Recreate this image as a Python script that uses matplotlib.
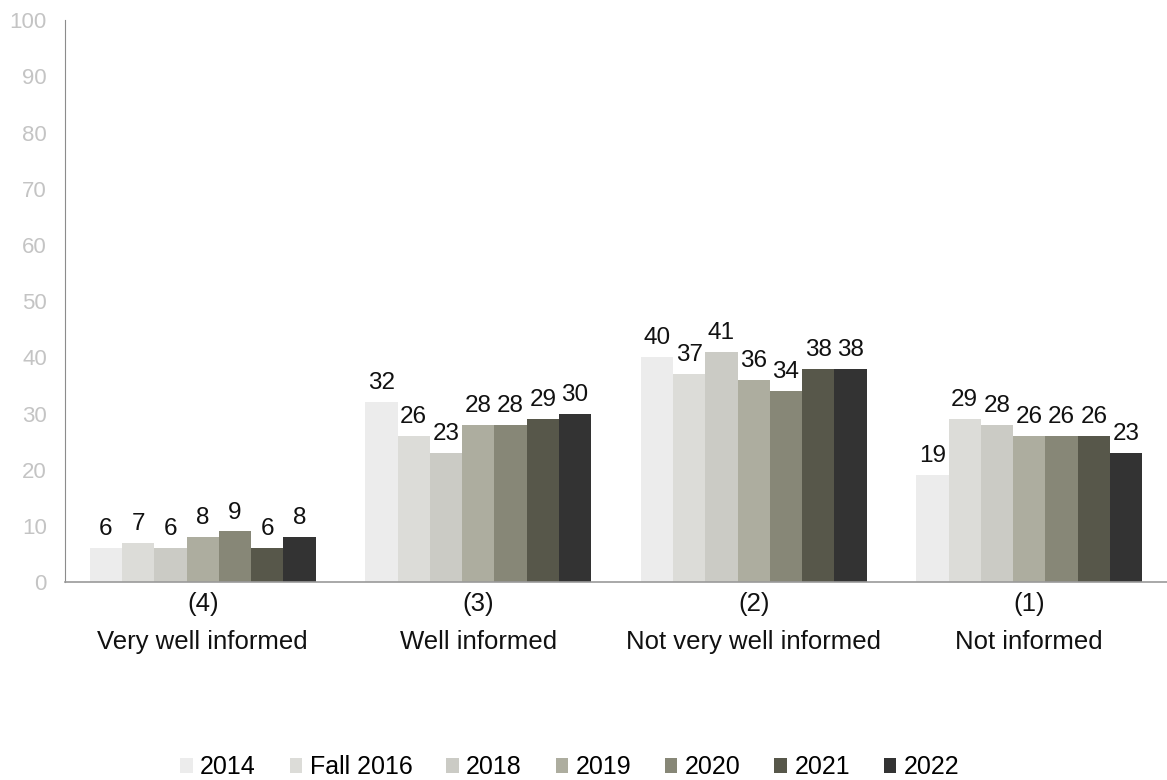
import numpy as np
import matplotlib.pyplot as plt

plt.rcParams['font.family'] = ['Liberation Sans', 'DejaVu Sans']

categories = ['(4)\nVery well informed', '(3)\nWell informed',
              '(2)\nNot very well informed', '(1)\nNot informed']
years = ['2014', 'Fall 2016', '2018', '2019', '2020', '2021', '2022']
values = {
    '2014':      [6, 32, 40, 19],
    'Fall 2016': [7, 26, 37, 29],
    '2018':      [6, 23, 41, 28],
    '2019':      [8, 28, 36, 26],
    '2020':      [9, 28, 34, 26],
    '2021':      [6, 29, 38, 26],
    '2022':      [8, 30, 38, 23],
}
colors = ['#ececec', '#dcdcd8', '#cbcbc5', '#adad9f', '#878777', '#57574a', '#333333']

fig = plt.figure(figsize=(11.67, 7.8), dpi=100)
ax = fig.add_axes([0.0557, 0.2538, 0.9443, 0.7202])

x = np.arange(len(categories))
n = len(years)
w = 0.82 / n
for i, (yr, c) in enumerate(zip(years, colors)):
    pos = x - 0.41 + w * (i + 0.5)
    bars = ax.bar(pos, values[yr], w, color=c, label=yr)
    for b, v in zip(bars, values[yr]):
        ax.text(b.get_x() + b.get_width() / 2, v + 1.4, str(v),
                ha='center', va='bottom', fontsize=17.5, color='#111111')

ax.set_xlim(-0.5, len(categories) - 0.5)
ax.set_ylim(0, 100)
ax.set_yticks(range(0, 101, 10))
ax.set_xticks(x)
ax.set_xticklabels(categories, fontsize=18.5, color='#111111', linespacing=1.75)
ax.tick_params(axis='y', length=0, labelsize=16, labelcolor='#c4c4c4', pad=13)
ax.tick_params(axis='x', length=0, pad=7)
for s in ['top', 'right']:
    ax.spines[s].set_visible(False)
ax.spines['left'].set_color('#8c8c8c')
ax.spines['bottom'].set_color('#9a9a9a')
ax.spines['bottom'].set_linewidth(1.2)

ax.legend(loc='center', bbox_to_anchor=(0.458, -0.33), ncol=n, frameon=False,
          fontsize=18, handlelength=0.5, handleheight=0.5, handletextpad=0.3,
          columnspacing=1.35)

fig.savefig('out.png', dpi=100)
